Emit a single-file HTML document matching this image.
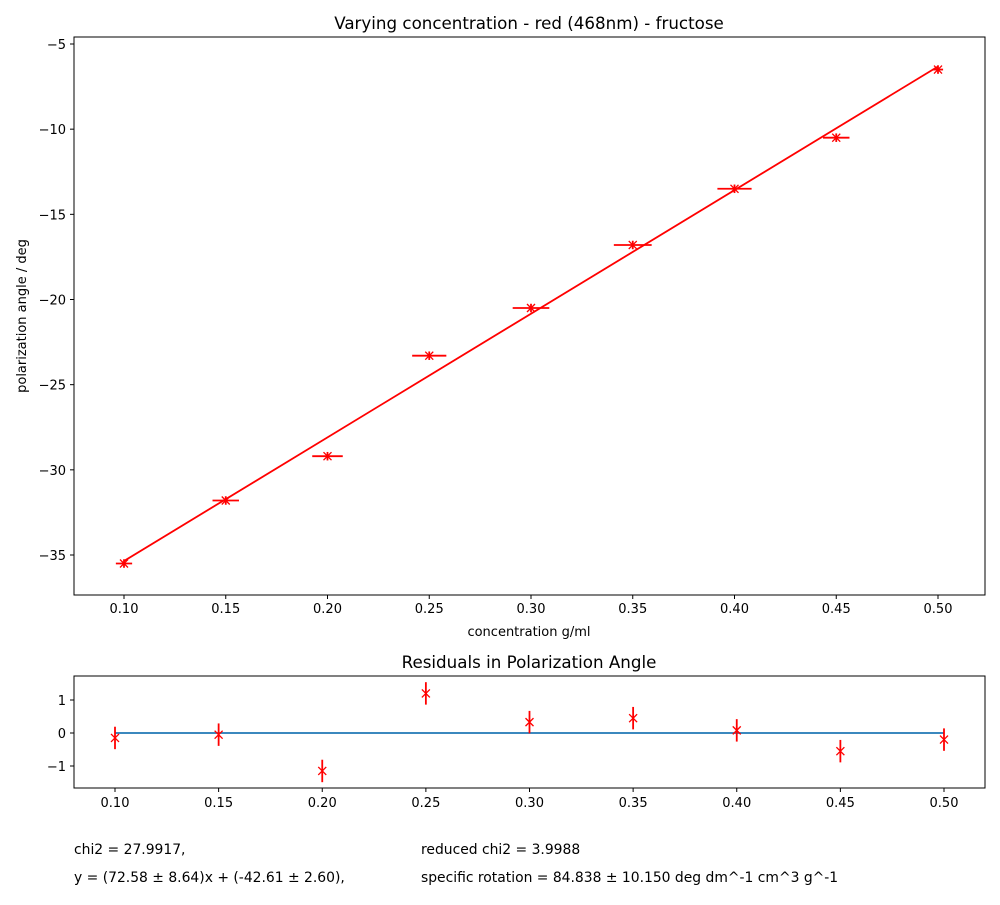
<!DOCTYPE html>
<html><head><meta charset="utf-8"><style>
body{margin:0;background:#fff;font-family:"Liberation Sans","DejaVu Sans",sans-serif;}
svg text{font-family:"DejaVu Sans","Liberation Sans",sans-serif;fill:#000;}
</style></head><body>
<svg id="chart" width="1000" height="900" xmlns="http://www.w3.org/2000/svg">
<rect width="1000" height="900" fill="#fff"/>
<g id="main"></g>
<g id="resid"></g>
<text x="74" y="854" font-size="13.9">chi2 = 27.9917,</text>
<text x="421" y="854" font-size="13.9">reduced chi2 = 3.9988</text>
<text x="74" y="882" font-size="13.9">y = (72.58 ± 8.64)x + (-42.61 ± 2.60),</text>
<text x="421" y="882" font-size="13.9">specific rotation = 84.838 ± 10.150 deg dm^-1 cm^3 g^-1</text>
</svg>
<script>
const conc = [0.10,0.15,0.20,0.25,0.30,0.35,0.40,0.45,0.50];
const angle = [-35.5,-31.8,-29.2,-23.3,-20.5,-16.8,-13.5,-10.5,-6.5];
const xErr = [0.004,0.0065,0.0075,0.0084,0.009,0.0093,0.0084,0.0065,0.0025];
const yErr = [0.25,0.25,0.25,0.25,0.25,0.25,0.25,0.25,0.25];
const fitSlope = 72.58;
const fitIntercept = -42.61;
const residuals = [-0.15,-0.05,-1.15,1.2,0.33,0.45,0.08,-0.55,-0.2];
const residErr = [0.34,0.34,0.34,0.34,0.34,0.34,0.34,0.34,0.34];
const xTicks = [0.10,0.15,0.20,0.25,0.30,0.35,0.40,0.45,0.50];
const yTicksMain = [-5,-10,-15,-20,-25,-30,-35];
const yTicksResid = [1,0,-1];

const NS="http://www.w3.org/2000/svg";
function mk(parent,tag,attrs,text){const e=document.createElementNS(NS,tag);for(const k in attrs)e.setAttribute(k,attrs[k]);if(text!==undefined)e.textContent=text;parent.appendChild(e);return e;}

const mx=v=>124+(v-0.10)*(938-124)/0.4;
const my=v=>555-(v+35)*(555-44)/30;
const M=document.getElementById('main');
let t=mk(M,'text',{x:529,y:29,'font-size':16.7,'text-anchor':'middle'},'Varying concentration - red (468nm) - fructose');

t=mk(M,'text',{x:529,y:636,'font-size':13,'text-anchor':'middle'},'concentration g/ml');

t=mk(M,'text',{x:26,y:316,'font-size':13,'text-anchor':'middle',transform:'rotate(-90 26 316)'},'polarization angle / deg');

xTicks.forEach(v=>{const x=mx(v);
 const l=mk(M,'line',{x1:x,x2:x,y1:595,y2:599,stroke:'#000'});
 const s=mk(M,'text',{x:x,y:613,'font-size':13,'text-anchor':'middle'},v.toFixed(2));});
yTicksMain.forEach(v=>{const y=my(v);
 const l=mk(M,'line',{x1:70,x2:74,y1:y,y2:y,stroke:'#000'});
 const s=mk(M,'text',{x:66,y:y+5,'font-size':13,'text-anchor':'end'},'\u2212'+Math.abs(v));});
let fl=mk(M,'line',{x1:mx(0.1),y1:my(fitSlope*0.1+fitIntercept),x2:mx(0.5),y2:my(fitSlope*0.5+fitIntercept),stroke:'#ff0000','stroke-width':1.8});

conc.forEach((c,i)=>{const x=mx(c),y=my(angle[i]);const g=mk(M,'g',{stroke:'#ff0000','stroke-width':1.8});
 
 mk(g,'line',{x1:mx(c-xErr[i]),x2:mx(c+xErr[i]),y1:y,y2:y});
 mk(g,'line',{x1:x,x2:x,y1:my(angle[i]-yErr[i]),y2:my(angle[i]+yErr[i])});
 mk(g,'line',{x1:x-4,x2:x+4,y1:y-4,y2:y+4,'stroke-width':1.3});
 mk(g,'line',{x1:x-4,x2:x+4,y1:y+4,y2:y-4,'stroke-width':1.3});});
mk(M,'rect',{x:74,y:37,width:911,height:558,fill:'none',stroke:'#000','stroke-width':1});

const rx=v=>115+(v-0.10)*(944-115)/0.4;
const ry=v=>733-v*33;
const R=document.getElementById('resid');
t=mk(R,'text',{x:529,y:668,'font-size':16.7,'text-anchor':'middle'},'Residuals in Polarization Angle');

xTicks.forEach(v=>{const x=rx(v);
 const l=mk(R,'line',{x1:x,x2:x,y1:788,y2:792,stroke:'#000'});
 const s=mk(R,'text',{x:x,y:807,'font-size':13,'text-anchor':'middle'},v.toFixed(2));});
yTicksResid.forEach(v=>{const y=ry(v);
 const l=mk(R,'line',{x1:70,x2:74,y1:y,y2:y,stroke:'#000'});
 const s=mk(R,'text',{x:66,y:y+5,'font-size':13,'text-anchor':'end'},v<0?'\u2212'+Math.abs(v):String(v));});
let zl=mk(R,'line',{x1:rx(0.1),x2:rx(0.5),y1:ry(0),y2:ry(0),stroke:'#1f77b4','stroke-width':1.8});

conc.forEach((c,i)=>{const x=rx(c),y=ry(residuals[i]);const g=mk(R,'g',{stroke:'#ff0000','stroke-width':1.8});
 
 mk(g,'line',{x1:x,x2:x,y1:ry(residuals[i]-residErr[i]),y2:ry(residuals[i]+residErr[i])});
 mk(g,'line',{x1:x-4,x2:x+4,y1:y-4,y2:y+4,'stroke-width':1.3});
 mk(g,'line',{x1:x-4,x2:x+4,y1:y+4,y2:y-4,'stroke-width':1.3});});
mk(R,'rect',{x:74,y:676,width:911,height:112,fill:'none',stroke:'#000','stroke-width':1});
</script>
</body></html>
